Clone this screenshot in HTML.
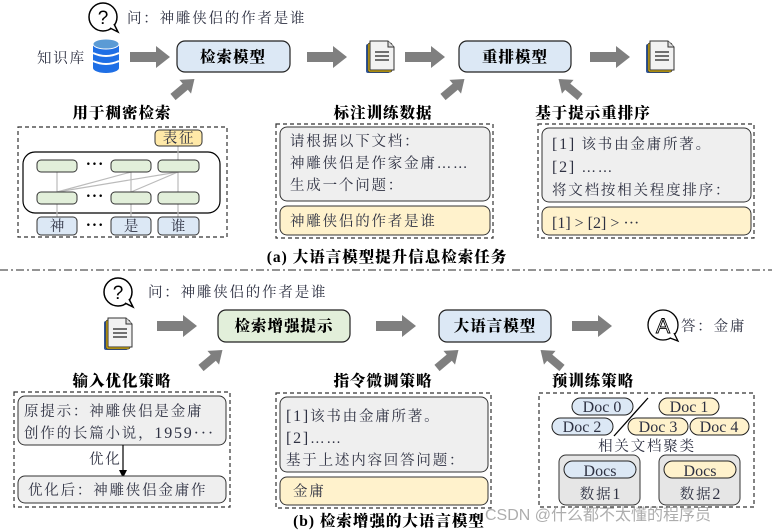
<!DOCTYPE html>
<html><head><meta charset="utf-8"><style>
html,body{margin:0;padding:0;background:#fff;}
svg{display:block}
.t{font-family:"Liberation Serif","Noto Serif CJK SC","Noto Sans CJK SC",serif;font-size:14.5px;fill:#2e3142;letter-spacing:1.8px;}
.e{font-family:"Liberation Serif",serif;font-size:16px;fill:#2e3142;}
.b{font-family:"Liberation Serif","Noto Serif CJK SC","Noto Sans CJK SC",serif;font-size:15.5px;font-weight:900;fill:#000;letter-spacing:1px;}
</style></head><body>
<svg width="772" height="530" viewBox="0 0 772 530" xmlns="http://www.w3.org/2000/svg">
<defs>
<marker id="ah" markerWidth="8" markerHeight="8" refX="4" refY="4" orient="auto" markerUnits="userSpaceOnUse"><path d="M0,0 L8,4 L0,8z" fill="#000"/></marker>
<g id="doc">
 <rect x="0" y="3" width="24" height="29" rx="2" fill="#2f5597"/>
 <rect x="2" y="2" width="24" height="29" rx="2" fill="#f2c200" stroke="#333" stroke-width="0.8"/>
 <path d="M4,0 H22 L28,6 V29 H4 Z" fill="#f2f2f2" stroke="#333" stroke-width="1"/>
 <path d="M22,0 V6 H28" fill="#ddd" stroke="#333" stroke-width="1"/>
 <path d="M9,11 H23 M9,15 H23 M9,19 H23" stroke="#444" stroke-width="1.4"/>
</g>
<g id="arr"><path d="M0,-5 H26 V-11 L40,0 L26,11 V5 H0 Z" fill="#7f7f7f"/></g>
<g id="darr"><path d="M0,-4 H16 V-9 L28,0 L16,9 V4 H0 Z" fill="#7f7f7f"/></g>
</defs>

<!-- ===== Part (a) ===== -->
<circle cx="103" cy="17" r="14" fill="#fff" stroke="#000" stroke-width="1.5"/>
<path d="M110,28 L118,32 L114,24" fill="#fff" stroke="#000" stroke-width="1.5"/>
<text x="103" y="24" text-anchor="middle" font-family="Liberation Sans" font-size="19" fill="#000">?</text>
<text class="t" x="127" y="23">问：神雕侠侣的作者是谁</text>

<text class="t" x="37" y="63">知识库</text>
<g>
 <ellipse cx="106" cy="68" rx="13" ry="5" fill="#1f6fe5"/>
 <rect x="93" y="44" width="26" height="24" fill="#1f6fe5"/>
 <path d="M93,53 Q106,59 119,53 M93,61 Q106,67 119,61" stroke="#fff" stroke-width="2" fill="none"/>
 <ellipse cx="106" cy="44" rx="13" ry="5" fill="#5b9bd5" stroke="#fff" stroke-width="1"/>
</g>
<use href="#arr" x="130" y="57"/>
<rect x="177" y="41" width="113" height="31" rx="8" fill="#dce8f5" stroke="#222" stroke-width="1.2"/>
<text class="b" x="233" y="62" text-anchor="middle">检索模型</text>
<use href="#arr" x="307" y="57"/>
<use href="#doc" x="366" y="41"/>
<use href="#arr" x="405" y="57"/>
<rect x="459" y="41" width="112" height="31" rx="8" fill="#dce8f5" stroke="#222" stroke-width="1.2"/>
<text class="b" x="515" y="62" text-anchor="middle">重排模型</text>
<use href="#arr" x="590" y="57"/>
<use href="#doc" x="646" y="41"/>

<use href="#darr" transform="translate(173,97) rotate(-40)"/>
<use href="#darr" transform="translate(443,97) rotate(-40)"/>
<use href="#darr" transform="translate(580,97) rotate(-140)"/>

<text class="b" x="122" y="118" text-anchor="middle">用于稠密检索</text>
<text class="b" x="383" y="118" text-anchor="middle">标注训练数据</text>
<text class="b" x="593" y="118" text-anchor="middle">基于提示重排序</text>

<!-- box1 -->
<rect x="18" y="127" width="209" height="110" fill="none" stroke="#333" stroke-width="1.2" stroke-dasharray="4,3"/>
<rect x="23" y="152" width="197" height="61" rx="12" fill="#fff" stroke="#000" stroke-width="1.2"/>
<g stroke="#bbb" stroke-width="1.2">
 <line x1="57" y1="172" x2="57" y2="217"/><line x1="131" y1="172" x2="131" y2="217"/><line x1="178" y1="145" x2="178" y2="217"/>
 <line x1="57" y1="192" x2="131" y2="172"/><line x1="57" y1="192" x2="178" y2="172"/><line x1="131" y1="192" x2="178" y2="172"/>
</g>
<rect x="155" y="130" width="47" height="16" rx="4" fill="#ffe9a8" stroke="#333"/>
<text class="t" x="179" y="143" text-anchor="middle">表征</text>
<g fill="#e2efda" stroke="#333" stroke-width="1">
 <rect x="37" y="160" width="40" height="12" rx="4"/><rect x="111" y="160" width="40" height="12" rx="4"/><rect x="158" y="160" width="41" height="12" rx="4"/>
 <rect x="37" y="192" width="40" height="12" rx="4"/><rect x="111" y="192" width="40" height="12" rx="4"/><rect x="158" y="192" width="41" height="12" rx="4"/>
</g>
<g fill="#dce8f5" stroke="#333" stroke-width="1">
 <rect x="37" y="217" width="40" height="18" rx="4"/><rect x="111" y="217" width="40" height="18" rx="4"/><rect x="158" y="217" width="41" height="18" rx="4"/>
</g>
<text class="b" x="95" y="169" text-anchor="middle">···</text>
<text class="b" x="95" y="201" text-anchor="middle">···</text>
<text class="b" x="95" y="230" text-anchor="middle">···</text>
<text class="t" x="58" y="231" text-anchor="middle">神</text>
<text class="t" x="132" y="231" text-anchor="middle">是</text>
<text class="t" x="179" y="231" text-anchor="middle">谁</text>

<!-- box2 -->
<rect x="276" y="124" width="217" height="114" fill="none" stroke="#333" stroke-width="1.2" stroke-dasharray="4,3"/>
<rect x="280" y="127" width="210" height="74" rx="7" fill="#efefef" stroke="#333"/>
<rect x="280" y="206" width="210" height="29" rx="7" fill="#fff2cc" stroke="#333"/>
<text class="t" x="290" y="146">请根据以下文档：</text>
<text class="t" x="290" y="168">神雕侠侣是作家金庸……</text>
<text class="t" x="290" y="190">生成一个问题：</text>
<text class="t" x="290" y="226">神雕侠侣的作者是谁</text>

<!-- box3 -->
<rect x="538" y="124" width="216" height="114" fill="none" stroke="#333" stroke-width="1.2" stroke-dasharray="4,3"/>
<rect x="542" y="128" width="209" height="74" rx="7" fill="#efefef" stroke="#333"/>
<rect x="542" y="207" width="209" height="28" rx="7" fill="#fff2cc" stroke="#333"/>
<text class="t" x="552" y="149"><tspan class="e">[1]</tspan> 该书由金庸所著。</text>
<text class="t" x="552" y="172"><tspan class="e">[2]</tspan> ……</text>
<text class="t" x="552" y="195">将文档按相关程度排序：</text>
<text class="e" x="552" y="228">[1] &gt; [2] &gt; ···</text>

<text class="b" x="387" y="262" text-anchor="middle" font-size="15.5">(a) 大语言模型提升信息检索任务</text>

<line x1="0" y1="270" x2="772" y2="270" stroke="#555" stroke-width="1.3" stroke-dasharray="8,3,2,3"/>

<!-- ===== Part (b) ===== -->
<circle cx="118" cy="292" r="14" fill="#fff" stroke="#000" stroke-width="1.5"/>
<path d="M125,303 L133,307 L129,299" fill="#fff" stroke="#000" stroke-width="1.5"/>
<text x="118" y="299" text-anchor="middle" font-family="Liberation Sans" font-size="19" fill="#000">?</text>
<text class="t" x="148" y="297">问：神雕侠侣的作者是谁</text>

<use href="#doc" x="104" y="318"/>
<use href="#arr" x="157" y="326"/>
<rect x="218" y="310" width="132" height="32" rx="8" fill="#e2efda" stroke="#222" stroke-width="1.2"/>
<text class="b" x="284" y="331" text-anchor="middle">检索增强提示</text>
<use href="#arr" x="376" y="326"/>
<rect x="439" y="310" width="112" height="32" rx="8" fill="#dce8f5" stroke="#222" stroke-width="1.2"/>
<text class="b" x="495" y="331" text-anchor="middle">大语言模型</text>
<use href="#arr" x="572" y="326"/>
<circle cx="663" cy="325" r="15" fill="#fff" stroke="#000" stroke-width="1.3"/>
<path d="M670,338 L678,341 L674,333" fill="#fff" stroke="#000" stroke-width="1.3"/>
<text x="663" y="333" text-anchor="middle" font-family="Liberation Sans" font-size="21" fill="#fff" stroke="#000" stroke-width="0.9">A</text>
<text class="t" x="681" y="331">答：金庸</text>

<use href="#darr" transform="translate(201,368) rotate(-40)"/>
<use href="#darr" transform="translate(437,368) rotate(-40)"/>
<use href="#darr" transform="translate(562,368) rotate(-140)"/>

<text class="b" x="122" y="386" text-anchor="middle">输入优化策略</text>
<text class="b" x="383" y="386" text-anchor="middle">指令微调策略</text>
<text class="b" x="593" y="386" text-anchor="middle">预训练策略</text>

<!-- box b1 -->
<rect x="14" y="392" width="216" height="115" fill="none" stroke="#333" stroke-width="1.2" stroke-dasharray="4,3"/>
<rect x="18" y="396" width="208" height="49" rx="7" fill="#efefef" stroke="#333"/>
<text class="t" x="24" y="416">原提示：神雕侠侣是金庸</text>
<text class="t" x="24" y="438">创作的长篇小说，<tspan class="e">1959···</tspan></text>
<line x1="123" y1="445" x2="123" y2="474" stroke="#000" stroke-width="1.2" marker-end="url(#ah)"/>
<text class="t" x="89" y="464">优化</text>
<rect x="18" y="476" width="208" height="27" rx="7" fill="#efefef" stroke="#333"/>
<text class="t" x="28" y="495">优化后：神雕侠侣金庸作</text>

<!-- box b2 -->
<rect x="276" y="393" width="215" height="115" fill="none" stroke="#333" stroke-width="1.2" stroke-dasharray="4,3"/>
<rect x="280" y="397" width="208" height="75" rx="7" fill="#efefef" stroke="#333"/>
<rect x="280" y="477" width="208" height="28" rx="7" fill="#fff2cc" stroke="#333"/>
<text class="t" x="286" y="421"><tspan class="e">[1]</tspan>该书由金庸所著。</text>
<text class="t" x="286" y="443"><tspan class="e">[2]</tspan>……</text>
<text class="t" x="286" y="465">基于上述内容回答问题：</text>
<text class="t" x="293" y="496">金庸</text>

<!-- box b3 -->
<rect x="539" y="393" width="215" height="114" fill="none" stroke="#333" stroke-width="1.2" stroke-dasharray="4,3"/>
<g stroke="#222" stroke-width="1">
 <rect x="572" y="398" width="61" height="17" rx="8.5" fill="#dce8f5"/>
 <rect x="659" y="398" width="60" height="17" rx="8.5" fill="#fff2cc"/>
 <rect x="552" y="418" width="61" height="17" rx="8.5" fill="#dce8f5"/>
 <rect x="628" y="418" width="60" height="17" rx="8.5" fill="#fff2cc"/>
 <rect x="690" y="418" width="59" height="17" rx="8.5" fill="#fff2cc"/>
</g>
<line x1="648" y1="398" x2="614" y2="436" stroke="#000" stroke-width="1.3"/>
<text class="e" x="602" y="412" text-anchor="middle">Doc 0</text>
<text class="e" x="689" y="412" text-anchor="middle">Doc 1</text>
<text class="e" x="582" y="432" text-anchor="middle">Doc 2</text>
<text class="e" x="658" y="432" text-anchor="middle">Doc 3</text>
<text class="e" x="719" y="432" text-anchor="middle">Doc 4</text>
<text class="t" x="647" y="451" text-anchor="middle">相关文档聚类</text>
<rect x="559" y="455" width="81" height="50" rx="7" fill="#e6e6e6" stroke="#333"/>
<rect x="659" y="455" width="81" height="50" rx="7" fill="#e6e6e6" stroke="#333"/>
<rect x="564" y="461" width="72" height="17" rx="8.5" fill="#dce8f5" stroke="#222"/>
<rect x="664" y="461" width="72" height="17" rx="8.5" fill="#fff2cc" stroke="#222"/>
<text class="e" x="600" y="476" text-anchor="middle">Docs</text>
<text class="e" x="700" y="476" text-anchor="middle">Docs</text>
<text class="t" x="601" y="499" text-anchor="middle">数据<tspan class="e">1</tspan></text>
<text class="t" x="701" y="499" text-anchor="middle">数据<tspan class="e">2</tspan></text>

<text class="b" x="389" y="526" text-anchor="middle">(b) 检索增强的大语言模型</text>
<text x="485" y="520" font-size="16" fill="#999" fill-opacity="0.8" style="font-family:'Liberation Sans','Noto Sans CJK SC',sans-serif">CSDN @什么都不太懂的程序员</text>
</svg>
</body></html>
